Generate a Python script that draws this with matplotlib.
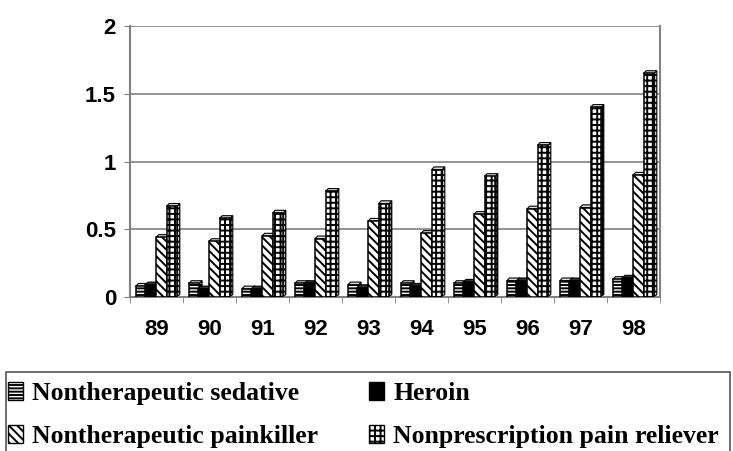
import numpy as np
import matplotlib
matplotlib.use("Agg")
import matplotlib.pyplot as plt
from matplotlib.patches import Patch, Polygon, Rectangle

plt.rcParams['hatch.linewidth'] = 1.4

years = ['89', '90', '91', '92', '93', '94', '95', '96', '97', '98']
sedative = [0.08, 0.10, 0.06, 0.10, 0.09, 0.10, 0.10, 0.12, 0.12, 0.13]
heroin = [0.09, 0.06, 0.06, 0.10, 0.07, 0.08, 0.11, 0.12, 0.12, 0.14]
painkiller = [0.44, 0.41, 0.45, 0.43, 0.56, 0.47, 0.61, 0.65, 0.66, 0.90]
reliever = [0.67, 0.58, 0.62, 0.78, 0.69, 0.94, 0.89, 1.12, 1.40, 1.65]

series = [
    ("Nontherapeutic sedative", sedative, 'white', '-----'),
    ("Heroin", heroin, 'black', None),
    ("Nontherapeutic painkiller", painkiller, 'white', '\\\\\\\\'),
    ("Nonprescription pain reliever", reliever, 'white', '+++'),
]
offsets = [-0.29, -0.11, 0.09, 0.29]
width = 0.2

fig = plt.figure(figsize=(7.33, 4.51), dpi=100)
ax = fig.add_axes([130 / 733, 1 - 297 / 451, 530 / 733, 271 / 451])

x = np.arange(len(years))
# fake depth for the little 3d caps on each bar
dx, dy = 0.05, 0.02

for (name, vals, color, hatch), off in zip(series, offsets):
    for xi, v in zip(x + off, vals):
        left, right = xi - width / 2, xi + width / 2
        side = Polygon([(right, 0), (right + dx, dy), (right + dx, v + dy), (right, v)],
                       closed=True, facecolor='#555555' if color == 'black' else '#c8c8c8',
                       edgecolor='black', lw=0.8, hatch=hatch, zorder=2)
        top = Polygon([(left, v), (left + dx, v + dy), (right + dx, v + dy), (right, v)],
                      closed=True, facecolor='#333333' if color == 'black' else '#dddddd',
                      edgecolor='black', lw=0.8, zorder=2)
        ax.add_patch(side)
        ax.add_patch(top)
    ax.bar(x + off, vals, width, color=color, edgecolor='black', hatch=hatch,
           lw=1.1, zorder=3)

ax.set_xlim(-0.5, 9.5)
ax.set_ylim(0, 2)
ax.set_yticks([0, 0.5, 1, 1.5, 2])
ax.set_yticklabels(['0', '0.5', '1', '1.5', '2'])
ax.yaxis.grid(True, color='#808080', lw=1.2, zorder=0)
ax.set_axisbelow(True)

ax.set_xticks(x)
ax.set_xticklabels(years)
ax.set_xticks(np.arange(-0.5, 10, 1), minor=True)
ax.tick_params(axis='x', which='major', length=0, pad=16)
ax.tick_params(axis='x', which='minor', length=4, color='#808080', direction='out')
ax.tick_params(axis='y', length=4, color='#808080', pad=6)

for lbl in ax.get_xticklabels() + ax.get_yticklabels():
    lbl.set_fontfamily('Liberation Sans')
    lbl.set_fontweight('bold')
    lbl.set_fontsize(16)

ax.spines['top'].set_visible(False)
for s in ['left', 'right', 'bottom']:
    ax.spines[s].set_color('#808080')
    ax.spines[s].set_linewidth(1.5)

# legend box runs off the bottom edge of the figure
fig.patches.append(Rectangle((6 / 733, -0.05), 724 / 733, 0.05 + 1 - 372 / 451,
                             transform=fig.transFigure, fill=False,
                             edgecolor='#555555', lw=1.2))

# matplotlib fills legend columns first, so order for two rows
order = [0, 2, 1, 3]
handles = [Patch(facecolor=series[i][2], edgecolor='black', hatch=series[i][3],
                 label=series[i][0]) for i in order]
leg = fig.legend(handles=handles, ncol=2, loc='upper left',
                 bbox_to_anchor=(8 / 733, 1 - 382 / 451),
                 frameon=False,
                 prop={'family': 'Liberation Serif', 'weight': 'bold', 'size': 18.5},
                 handlelength=0.6, handleheight=0.7, handletextpad=0.35,
                 labelspacing=0.76, borderpad=0, borderaxespad=0,
                 columnspacing=1.97)

fig.savefig('out.png', dpi=100)
